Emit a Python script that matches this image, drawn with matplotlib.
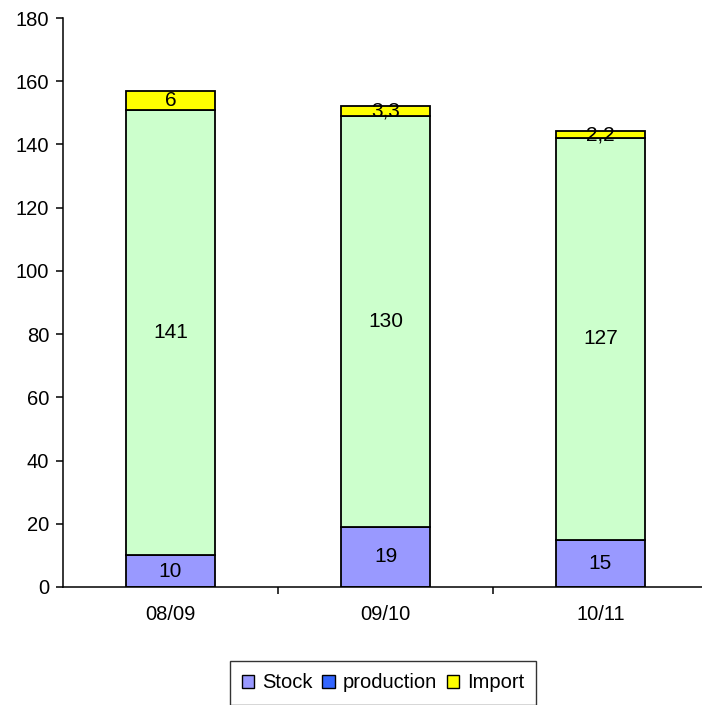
import numpy as np
import matplotlib.pyplot as plt
from matplotlib.patches import Patch

plt.rcParams['font.family'] = ['Liberation Sans', 'DejaVu Sans']

seasons = ['08/09', '09/10', '10/11']
stock = [10, 19, 15]
production = [141, 130, 127]
imports = [6, 3.3, 2.2]
yticks = np.arange(0, 181, 20)

W, H = 702, 705
fig = plt.figure(figsize=(W / 100, H / 100), dpi=100)
ax = fig.add_axes([63 / W, 1 - 587 / H, 645 / W, (587 - 18) / H])

x = np.arange(len(seasons))
bw = 0.41
edge = dict(edgecolor='black', linewidth=1.3)
b1 = ax.bar(x, stock, bw, color='#9999ff', **edge)
b2 = ax.bar(x, production, bw, bottom=stock, color='#ccffcc', **edge)
bottom3 = np.array(stock) + np.array(production)
b3 = ax.bar(x, imports, bw, bottom=bottom3, color='#ffff00', **edge)

def fmt(v):
    return ('%g' % v).replace('.', ',')

for bars, vals, bots in [(b1, stock, [0] * 3), (b2, production, stock), (b3, imports, bottom3)]:
    for xi, v, b in zip(x, vals, bots):
        ax.text(xi, b + v / 2, fmt(v), ha='center', va='center', fontsize=15, color='black')

ax.set_xlim(-0.5, 2.5)
ax.set_ylim(0, 180)
ax.set_yticks(yticks)
ax.set_yticklabels([str(t) for t in yticks], fontsize=14.5)
ax.set_xticks(x)
ax.set_xticklabels(seasons, fontsize=14.5)
ax.tick_params(axis='x', which='major', length=0, pad=13)
ax.set_xticks([0.5, 1.5], minor=True)
ax.tick_params(axis='x', which='minor', length=5, direction='out', width=1.1)
ax.tick_params(axis='y', length=5, direction='out', pad=5, width=1.1)
for s in ['top', 'right']:
    ax.spines[s].set_visible(False)
ax.spines['left'].set_linewidth(1.1)
ax.spines['bottom'].set_linewidth(1.1)

handles = [Patch(facecolor='#9999ff', edgecolor='black', label='Stock'),
           Patch(facecolor='#3366ff', edgecolor='black', label='production'),
           Patch(facecolor='#ffff00', edgecolor='black', label='Import')]
leg = fig.legend(handles=handles, loc='center', bbox_to_anchor=(383 / W, 1 - 683 / H),
                 ncol=3, fontsize=14.5, frameon=True, fancybox=False,
                 handlelength=0.6, handleheight=0.6, handletextpad=0.4,
                 columnspacing=0.5, borderpad=0.6)
leg.get_frame().set_edgecolor('black')
leg.get_frame().set_linewidth(1.0)

fig.savefig('out.png', dpi=100)
